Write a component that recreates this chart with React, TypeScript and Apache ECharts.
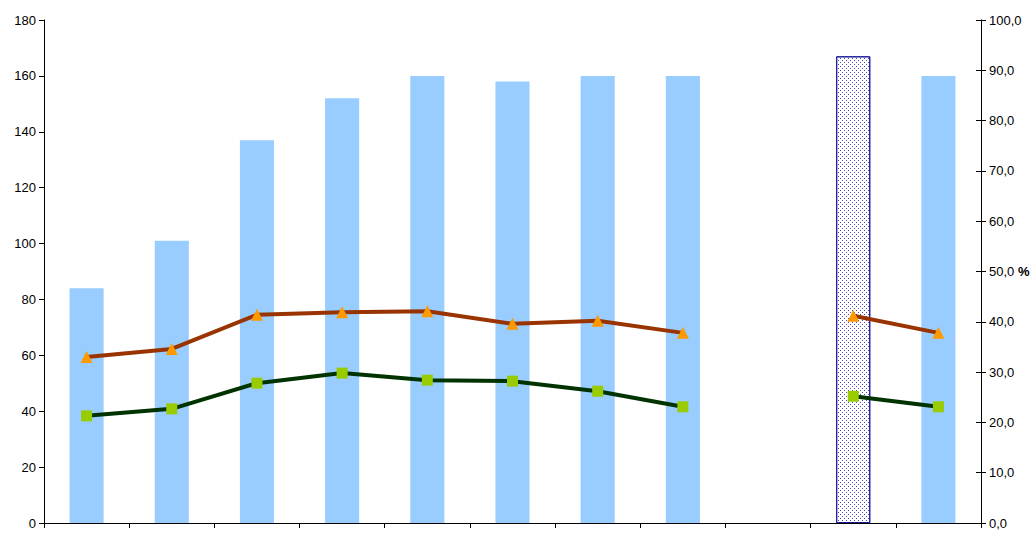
import React, { useEffect, useRef } from "react";
import * as echarts from "echarts";

const categories = ["1", "2", "3", "4", "5", "6", "7", "8", "9", "10", "11"];
const barValues: (number | null)[] = [84, 101, 137, 152, 160, 158, 160, 160, null, null, 160];
const dottedBarValues: (number | null)[] = [null, null, null, null, null, null, null, null, null, 167, null];
const orangeValues: (number | null)[] = [33.0, 34.6, 41.4, 41.9, 42.1, 39.6, 40.2, 37.8, null, 41.2, 37.8];
const greenValues: (number | null)[] = [21.3, 22.7, 27.8, 29.8, 28.4, 28.2, 26.2, 23.1, null, 25.2, 23.1];

const FONT = "Liberation Sans, Arial, sans-serif";

export default function App() {
  const ref = useRef<HTMLDivElement>(null);
  useEffect(() => {
    if (!ref.current) return;
    const chart = echarts.init(ref.current, undefined, { renderer: "svg" });
    const labelStyle = { color: "#000", fontFamily: FONT, fontSize: 13 };
    chart.setOption({
      animation: false,
      backgroundColor: "#fff",
      grid: { left: 44, right: 53, top: 20, bottom: 10 },
      xAxis: {
        type: "category",
        data: categories,
        boundaryGap: true,
        axisLine: { lineStyle: { color: "#000", width: 1 } },
        axisTick: { show: true, alignWithLabel: false, length: 5, lineStyle: { color: "#000" } },
        axisLabel: { show: false },
        splitLine: { show: false },
      },
      yAxis: [
        {
          type: "value",
          min: 0,
          max: 180,
          interval: 20,
          position: "left",
          axisLine: { show: true, lineStyle: { color: "#000" } },
          axisTick: { show: true, length: 5, lineStyle: { color: "#000" } },
          axisLabel: { ...labelStyle, margin: 8 },
          splitLine: { show: false },
        },
        {
          type: "value",
          min: 0,
          max: 100,
          interval: 10,
          position: "right",
          axisLine: { show: true, lineStyle: { color: "#000" } },
          axisTick: { show: true, length: 5, lineStyle: { color: "#000" } },
          axisLabel: {
            ...labelStyle,
            margin: 8,
            formatter: (v: number) =>
              v === 50 ? v.toFixed(1).replace(".", ",") + " {b|%}" : v.toFixed(1).replace(".", ","),
            rich: { b: { fontWeight: "bold", fontFamily: FONT, fontSize: 13, color: "#000" } },
          },
          splitLine: { show: false },
        },
        {
          type: "value",
          min: 0,
          max: 100,
          interval: 10,
          position: "right",
          axisLine: { show: false },
          axisTick: { show: true, inside: true, length: 5, lineStyle: { color: "#000" } },
          axisLabel: { show: false },
          splitLine: { show: false },
        },
      ],
      series: [
        {
          type: "bar",
          data: barValues,
          yAxisIndex: 0,
          barWidth: "40%",
          barGap: "-100%",
          itemStyle: { color: "#99CCFF" },
        },
        {
          type: "bar",
          data: dottedBarValues,
          yAxisIndex: 0,
          barWidth: "40%",
          barGap: "-100%",
          itemStyle: {
            color: "#ffffff",
            borderColor: "#1a1a99",
            borderWidth: 1,
            decal: {
              symbol: "rect",
              symbolSize: 1,
              color: "#4a4ab8",
              dashArrayX: [[1, 3], [0, 2, 1, 1]],
              dashArrayY: [1, 1],
              rotation: 0,
            },
          },
        },
        {
          type: "line",
          data: orangeValues,
          yAxisIndex: 1,
          connectNulls: false,
          symbol: "triangle",
          symbolSize: 12,
          lineStyle: { color: "#993300", width: 4 },
          itemStyle: { color: "#FF9900" },
        },
        {
          type: "line",
          data: greenValues,
          yAxisIndex: 1,
          connectNulls: false,
          symbol: "rect",
          symbolSize: 11,
          lineStyle: { color: "#003300", width: 4 },
          itemStyle: { color: "#99CC00" },
        },
      ],
    });
    return () => chart.dispose();
  }, []);
  return (
    <div
      ref={ref}
      style={{ position: "fixed", left: 0, top: 0, width: 1034, height: 533 }}
    />
  );
}
